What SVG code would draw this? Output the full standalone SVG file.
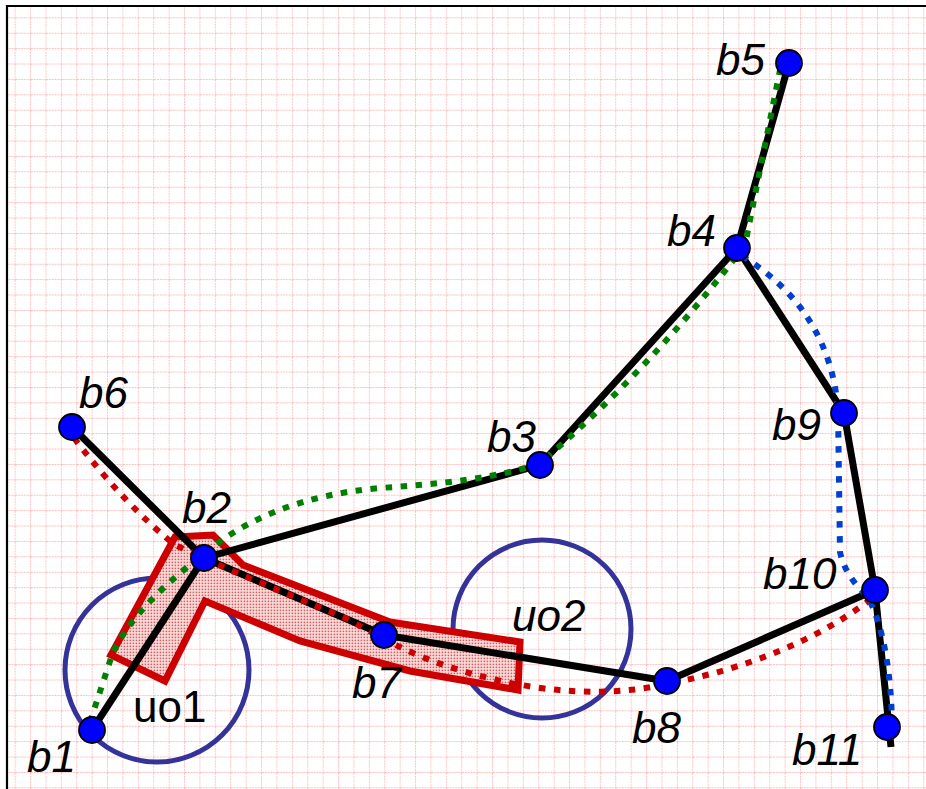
<svg xmlns="http://www.w3.org/2000/svg" width="926" height="789" viewBox="0 0 926 789">
<defs>
<pattern id="grid" patternUnits="userSpaceOnUse" x="0.2" y="2.9" width="15.4" height="15.4">
<line x1="15.4" y1="0" x2="15.4" y2="15.4" stroke="#ffb8b8" stroke-width="1.8" stroke-dasharray="1.8,1"/>
<line x1="0" y1="15.4" x2="15.4" y2="15.4" stroke="#ffb8b8" stroke-width="1.8" stroke-dasharray="1.8,1"/>
</pattern>
<pattern id="dots" patternUnits="userSpaceOnUse" width="3" height="3">
<rect width="3" height="3" fill="#fbe2e2"/>
<rect x="0.6" y="0.6" width="1.6" height="1.6" fill="#d85a5a"/>
</pattern>
<style>
.edge{stroke:#000;stroke-width:7;fill:none;stroke-linecap:butt}
.dot{fill:none;stroke-width:6;stroke-dasharray:6.5,8.5}
.g{stroke:#008000}.r{stroke:#cc0000}.b{stroke:#0040d0}
.obs{fill:none;stroke:#333399;stroke-width:5}
.node circle{fill:#0000ff;stroke:#000;stroke-width:1.8}
.lbl{font-family:"Liberation Sans",Arial,sans-serif;font-size:44px;font-style:italic;fill:#000}
.up{font-style:normal}
</style>
</defs>
<rect width="926" height="789" fill="#fff"/>
<rect x="7" y="6" width="919" height="783" fill="url(#grid)"/>
<line x1="7" y1="5" x2="7" y2="789" stroke="#000" stroke-width="2.2"/>
<line x1="6" y1="6" x2="926" y2="6" stroke="#000" stroke-width="2.2"/>

<g id="uo1"><circle class="obs" cx="157" cy="670" r="92"/><text class="lbl up" x="133" y="722">uo1</text></g>
<g id="uo2"><circle class="obs" cx="542" cy="629" r="89"/><text class="lbl" x="512" y="631">uo2</text></g>

<g id="region"><polygon points="175,537 213,535 243,565 390,622 520,642 518,690 410,671 300,641 205,601 165,681 111,655" fill="url(#dots)" stroke="#cc0000" stroke-width="7" stroke-linejoin="miter"/></g>

<g id="connectors">
<line class="edge" x1="92" y1="730" x2="204" y2="558"/>
<line class="edge" x1="72" y1="427" x2="204" y2="558"/>
<line class="edge" x1="204" y1="558" x2="540" y2="465"/>
<line class="edge" x1="540" y1="465" x2="737" y2="248"/>
<line class="edge" x1="737" y1="248" x2="789" y2="63"/>
<line class="edge" x1="737" y1="248" x2="844" y2="413"/>
<line class="edge" x1="844" y1="413" x2="875" y2="590"/>
<line class="edge" x1="875" y1="590" x2="891" y2="747"/>
<line class="edge" x1="204" y1="558" x2="384" y2="635"/>
<line class="edge" x1="384" y1="635" x2="667" y2="681"/>
<line class="edge" x1="667" y1="681" x2="875" y2="590"/>
<path class="dot g" d="M90,722 L112,655 C130,615 170,580 205,553 C245,520 300,495 380,488 C440,484 500,478 540,463 Q650,370 745,245 L780,70"/>
<path class="dot r" d="M74,438 Q125,505 175,545 L230,570 L350,620 Q380,638 400,647 Q460,676 540,688 Q610,697 667,684 Q790,660 870,600"/>
<path class="dot b" d="M742,256 Q830,310 838,410 L840,552 Q845,576 868,597 Q890,640 892,722"/>
</g>

<g id="b1" class="node"><circle cx="92" cy="730" r="13"/><text class="lbl" x="27" y="772">b1</text></g>
<g id="b2" class="node"><circle cx="204" cy="558" r="13"/><text class="lbl" x="182" y="523">b2</text></g>
<g id="b3" class="node"><circle cx="540" cy="465" r="13"/><text class="lbl" x="487" y="452">b3</text></g>
<g id="b4" class="node"><circle cx="737" cy="248" r="13"/><text class="lbl" x="667" y="246">b4</text></g>
<g id="b5" class="node"><circle cx="789" cy="63" r="13"/><text class="lbl" x="716" y="75">b5</text></g>
<g id="b6" class="node"><circle cx="72" cy="427" r="13"/><text class="lbl" x="79" y="408">b6</text></g>
<g id="b7" class="node"><circle cx="384" cy="635" r="13"/><text class="lbl" x="352" y="698">b7</text></g>
<g id="b8" class="node"><circle cx="667" cy="681" r="13"/><text class="lbl" x="632" y="743">b8</text></g>
<g id="b9" class="node"><circle cx="844" cy="413" r="13"/><text class="lbl" x="772" y="440">b9</text></g>
<g id="b10" class="node"><circle cx="875" cy="590" r="13"/><text class="lbl" x="763" y="589">b10</text></g>
<g id="b11" class="node"><circle cx="887" cy="727" r="13"/><text class="lbl" x="792" y="765">b11</text></g>
</svg>
